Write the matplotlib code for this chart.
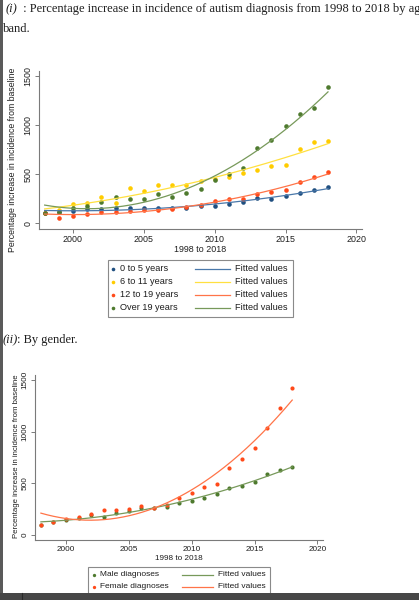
import numpy as np
import matplotlib
matplotlib.use("Agg")
import matplotlib.pyplot as plt
from matplotlib.lines import Line2D
from matplotlib.patches import Rectangle

# ---------------- data ----------------
years = list(range(1998, 2019))

age_0_5 = [100, 115, 126, 139, 146, 150, 153, 150, 156, 153, 156,
           177, 177, 194, 212, 255, 247, 279, 303, 337, 364]
age_6_11 = [100, 136, 190, 207, 262, 207, 354, 326, 384, 388, 384,
            432, 445, 473, 513, 537, 578, 595, 755, 826, 840]
age_12_19 = [100, 54, 75, 88, 109, 112, 122, 129, 136, 146, 167,
             180, 221, 245, 248, 299, 320, 340, 418, 466, 524]
age_over_19 = [100, 112, 150, 170, 218, 265, 241, 245, 296, 262, 309,
               350, 442, 496, 558, 765, 847, 993, 1108, 1170, 1384]

male = [100, 125, 150, 165, 190, 174, 215, 235, 261, 265, 274,
        308, 332, 361, 394, 455, 471, 510, 590, 629, 661]
female = [100, 126, 158, 174, 206, 240, 240, 248, 282, 260, 295,
          356, 406, 465, 497, 648, 732, 842, 1039, 1226, 1426]

age_labels = ["0 to 5 years", "6 to 11 years", "12 to 19 years", "Over 19 years"]
gender_labels = ["Male diagnoses", "Female diagnoses"]
fit_label = "Fitted values"
x_ticks = [2000, 2005, 2010, 2015, 2020]
y_ticks = [0, 500, 1000, 1500]
x_label = "1998 to 2018"
y_label = "Percentage increase in incidence from baseline"

# ---------------- styling ----------------
W, H = 419, 600
fig = plt.figure(figsize=(W / 100, H / 100), dpi=100)
fig.patch.set_facecolor("white")

def fx(px):
    return px / W

def fy(py):
    return 1 - py / H

SANS = ["Liberation Sans", "DejaVu Sans"]
SERIF = ["Liberation Serif", "DejaVu Serif"]
TXT = "#1e1e1e"
AXC = "#7a7a7a"

age_mcol = ["#1f4f80", "#ffcc00", "#ff4a1a", "#4e7a2e"]
age_lcol = ["#4a78aa", "#ffe040", "#ff7448", "#77995a"]
gen_mcol = ["#4e7a2e", "#ff4a1a"]
gen_lcol = ["#77995a", "#ff7448"]


def make_axes(left, right, top, bottom, xlim, ylim, fs, ms, series, mcols, lcols):
    ax = fig.add_axes([fx(left), fy(bottom), fx(right - left), (bottom - top) / H])
    ax.set_xlim(*xlim)
    ax.set_ylim(*ylim)
    for s in ["top", "right"]:
        ax.spines[s].set_visible(False)
    for s in ["left", "bottom"]:
        ax.spines[s].set_color(AXC)
        ax.spines[s].set_linewidth(0.8)
    ax.set_xticks(x_ticks)
    ax.set_yticks(y_ticks)
    ax.tick_params(axis="both", colors=AXC, length=3, width=0.7, labelcolor=TXT,
                   labelsize=fs)
    ax.tick_params(axis="x", pad=1.5)
    ax.tick_params(axis="y", pad=1.5)
    for lab in ax.get_yticklabels():
        lab.set_rotation(90)
        lab.set_va("center")
        lab.set_ha("right")
        lab.set_family(SANS)
    for lab in ax.get_xticklabels():
        lab.set_family(SANS)
    xs = np.array(years, dtype=float)
    xx = np.linspace(xs.min(), xs.max(), 200)
    for vals, mc, lc in zip(series, mcols, lcols):
        ax.plot(xs, vals, linestyle="none", marker="o", ms=ms, color=mc,
                markeredgewidth=0, zorder=3)
        coef = np.polyfit(xs, np.array(vals, dtype=float), 2)
        ax.plot(xx, np.polyval(coef, xx), color=lc, lw=0.9, zorder=4)
    ax.set_facecolor("white")
    return ax


def legend_box(left, right, top, bottom, rows, marker_x, label_x, line_x0, line_x1,
               fit_x, mcols, lcols, labels, fs, ms):
    fig.add_artist(Rectangle((fx(left), fy(bottom)), fx(right - left), (bottom - top) / H,
                             transform=fig.transFigure, facecolor="white",
                             edgecolor="#8a8a8a", linewidth=0.8, zorder=5))
    for ry, mc, lc, lab in zip(rows, mcols, lcols, labels):
        fig.add_artist(Line2D([fx(marker_x)], [fy(ry)], marker="o", ms=ms, color=mc,
                              markeredgewidth=0, linestyle="none",
                              transform=fig.transFigure, zorder=6))
        fig.text(fx(label_x), fy(ry), lab, fontsize=fs, family=SANS, color=TXT,
                 ha="left", va="center", zorder=6)
        fig.add_artist(Line2D([fx(line_x0), fx(line_x1)], [fy(ry), fy(ry)], color=lc,
                              lw=0.9, transform=fig.transFigure, zorder=6))
        fig.text(fx(fit_x), fy(ry), fit_label, fontsize=fs, family=SANS, color=TXT,
                 ha="left", va="center", zorder=6)


# ---------------- headings ----------------
fig.text(fx(6), fy(9), "(i)", fontsize=9.0, family=SERIF, style="italic",
         color=TXT, ha="left", va="center")
fig.text(fx(20), fy(9),
         " : Percentage increase in incidence of autism diagnosis from 1998 to 2018 by age",
         fontsize=9.0, family=SERIF, color=TXT, ha="left", va="center")
fig.text(fx(3), fy(29), "band.", fontsize=9.0, family=SERIF, color=TXT,
         ha="left", va="center")
fig.text(fx(3), fy(340), "(ii)", fontsize=9.0, family=SERIF, style="italic",
         color=TXT, ha="left", va="center")
fig.text(fx(17), fy(340), ": By gender.", fontsize=9.0, family=SERIF, color=TXT,
         ha="left", va="center")

# ---------------- top chart (by age band) ----------------
ax1 = make_axes(39, 362, 71, 229, (1997.6, 2020.4), (-61, 1551), 6.4, 3.3,
                [age_0_5, age_6_11, age_12_19, age_over_19], age_mcol, age_lcol)
fig.text(fx(200), fy(249), x_label, fontsize=6.4, family=SANS, color=TXT,
         ha="center", va="center")
fig.text(fx(12.5), fy(160), y_label, fontsize=6.3, family=SANS, color=TXT,
         ha="center", va="center", rotation=90)
legend_box(108, 293, 260, 317, [269, 282, 294.5, 307.5], 113, 119.5, 195, 230, 235,
           age_mcol, age_lcol, age_labels, 6.6, 2.6)

# ---------------- bottom chart (by gender) ----------------
ax2 = make_axes(35, 323, 375, 540, (1997.53, 2020.45), (-48, 1548), 5.9, 3.0,
                [male, female], gen_mcol, gen_lcol)
fig.text(fx(179), fy(558), x_label, fontsize=5.9, family=SANS, color=TXT,
         ha="center", va="center")
fig.text(fx(16.5), fy(456), y_label, fontsize=5.6, family=SANS, color=TXT,
         ha="center", va="center", rotation=90)
legend_box(88, 270, 567, 600, [575, 586.7], 94, 99.5, 182, 213, 218,
           gen_mcol, gen_lcol, gender_labels, 6.0, 2.4)

# ---------------- page frame (screenshot borders) ----------------
fig.add_artist(Rectangle((0, 0), fx(2.6), 1, transform=fig.transFigure,
                         facecolor="#5a5a5a", edgecolor="none", zorder=10))
fig.add_artist(Rectangle((0, 0), 1, 7 / H, transform=fig.transFigure,
                         facecolor="#474747", edgecolor="none", zorder=10))
fig.add_artist(Line2D([fx(22), fx(22)], [0, 7 / H], color="#2a2a2a", lw=0.8,
                      transform=fig.transFigure, zorder=11))

fig.savefig("out.png", dpi=100, facecolor="white")
